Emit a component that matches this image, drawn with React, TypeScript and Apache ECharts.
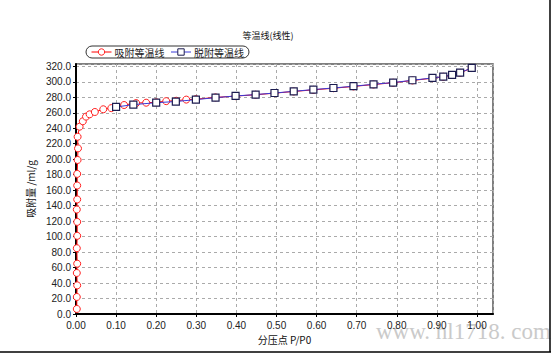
import React, { useEffect, useRef } from "react";
import * as echarts from "echarts";

const titleText = "等温线(线性)";
const adsName = "吸附等温线";
const desName = "脱附等温线";
const xName = "分压点 P/P0";
const yName = "吸附量 /ml/g";

const adsX = [0.002, 0.002, 0.003, 0.002, 0.003, 0.002, 0.003, 0.003, 0.002, 0.003, 0.003, 0.003, 0.004, 0.005, 0.004, 0.009, 0.017, 0.025, 0.034, 0.047, 0.068, 0.088, 0.12, 0.15, 0.175, 0.2, 0.225, 0.25, 0.275, 0.299, 0.348, 0.398, 0.448, 0.495, 0.543, 0.592, 0.642, 0.692, 0.742, 0.791, 0.839, 0.889, 0.916, 0.938, 0.958, 0.987];
const adsY = [6.5, 22, 37, 53, 65, 85, 101, 119, 135, 148, 166, 181, 199, 214, 229, 242, 249, 255, 258, 261, 264.5, 266, 270, 272.5, 273, 273.5, 275, 275.5, 277, 277.5, 279.8, 281.5, 283.3, 285.3, 287.5, 289.6, 291.7, 294, 296.5, 298.8, 301.7, 304.7, 306.5, 308.8, 311.5, 317.8];

const desX = [0.1, 0.143, 0.2, 0.249, 0.299, 0.348, 0.398, 0.448, 0.495, 0.543, 0.592, 0.642, 0.692, 0.742, 0.791, 0.839, 0.889, 0.916, 0.938, 0.958, 0.987];
const desY = [267.5, 270.5, 273, 274.5, 277, 279.5, 281.7, 283.5, 285.5, 287.7, 290, 292, 294.3, 296.8, 299, 302, 305, 306.7, 309, 311.8, 318];

const watermark = "www. hl1718. com";

export default function App() {
  const ref = useRef<HTMLDivElement>(null);
  useEffect(() => {
    if (!ref.current) return;
    const chart = echarts.init(ref.current, null, { renderer: "svg" });
    const font = "'Liberation Sans', Arial, sans-serif";
    const cjk = "'Noto Sans CJK SC', sans-serif";
    const isTick = (v: number, step: number) => Math.abs(v / step - Math.round(v / step)) < 1e-6;
    chart.setOption({
      animation: false,
      backgroundColor: "#ffffff",
      title: {
        text: titleText,
        left: 263,
        top: 26,
        textAlign: "center",
        textStyle: { fontSize: 9, fontWeight: "normal", color: "#111", fontFamily: cjk },
      },
      legend: {
        left: 86,
        top: 46,
        padding: [1, 5],
        itemGap: 6,
        itemWidth: 20,
        itemHeight: 8,
        borderColor: "#333",
        borderWidth: 1,
        borderRadius: 7,
        lineStyle: { width: 1 },
        itemStyle: { borderWidth: 1 },
        textStyle: { fontSize: 10, color: "#222", fontFamily: cjk, padding: [0, 0, 0, -2] },
        data: [adsName, desName],
      },
      grid: {
        left: 76,
        right: 61,
        top: 64,
        bottom: 40,
        show: true,
        borderColor: "#555",
        borderWidth: 1.5,
        backgroundColor: "#fff",
      },
      xAxis: {
        type: "value",
        min: 0,
        max: 1.04,
        interval: 0.1,
        name: xName,
        nameLocation: "middle",
        nameGap: 19,
        nameTextStyle: { fontSize: 10, color: "#111", fontFamily: cjk },
        axisLine: { show: true, lineStyle: { color: "#000", width: 2 } },
        axisTick: { show: true, length: 3, lineStyle: { color: "#000" } },
        axisLabel: {
          fontSize: 10,
          color: "#222",
          fontFamily: font,
          margin: 6,
          showMaxLabel: false,
          formatter: (v: number) => (isTick(v, 0.1) ? v.toFixed(2) : ""),
        },
        splitLine: { show: true, lineStyle: { color: "#aaa", type: [3, 3], width: 1 } },
      },
      yAxis: {
        type: "value",
        min: 0,
        max: 323,
        interval: 20,
        name: yName,
        nameLocation: "middle",
        nameGap: 36,
        nameRotate: 90,
        nameTextStyle: { fontSize: 10, color: "#111", fontFamily: cjk },
        axisLine: { show: true, lineStyle: { color: "#000", width: 2 } },
        axisTick: { show: true, length: 3, lineStyle: { color: "#000" } },
        axisLabel: {
          fontSize: 10,
          color: "#222",
          fontFamily: font,
          margin: 5,
          showMaxLabel: false,
          formatter: (v: number) => (isTick(v, 20) ? v.toFixed(1) : ""),
        },
        splitLine: { show: true, lineStyle: { color: "#aaa", type: [3, 3], width: 1 } },
      },
      graphic: [
        {
          type: "text",
          left: 376,
          top: 320,
          z: -10,
          style: {
            text: watermark,
            fontSize: 23,
            fontFamily: "'Liberation Serif', 'DejaVu Serif', serif",
            fill: "#cacaca",
          },
        },
        { type: "line", shape: { x1: 0, y1: 352, x2: 551, y2: 352 }, style: { stroke: "#000", lineWidth: 1.5 } },
        { type: "line", shape: { x1: 550, y1: 0, x2: 550, y2: 352 }, style: { stroke: "#000", lineWidth: 1.5 } },
      ],
      series: [
        {
          name: adsName,
          type: "line",
          data: adsX.map((x, i) => [x, adsY[i]]),
          symbol: "circle",
          symbolSize: 7,
          lineStyle: { color: "#ff0000", width: 1 },
          itemStyle: { color: "#ffffff", borderColor: "#ff2020", borderWidth: 1 },
          z: 2,
        },
        {
          name: desName,
          type: "line",
          data: desX.map((x, i) => [x, desY[i]]),
          symbol: "rect",
          symbolSize: 7,
          lineStyle: { color: "#3a3ad8", width: 1 },
          itemStyle: { color: "#ffffff", borderColor: "#1c1c50", borderWidth: 1.2 },
          z: 3,
        },
      ],
    });
    return () => chart.dispose();
  }, []);
  return <div ref={ref} style={{ position: "fixed", left: 0, top: 0, width: 554, height: 354 }} />;
}
